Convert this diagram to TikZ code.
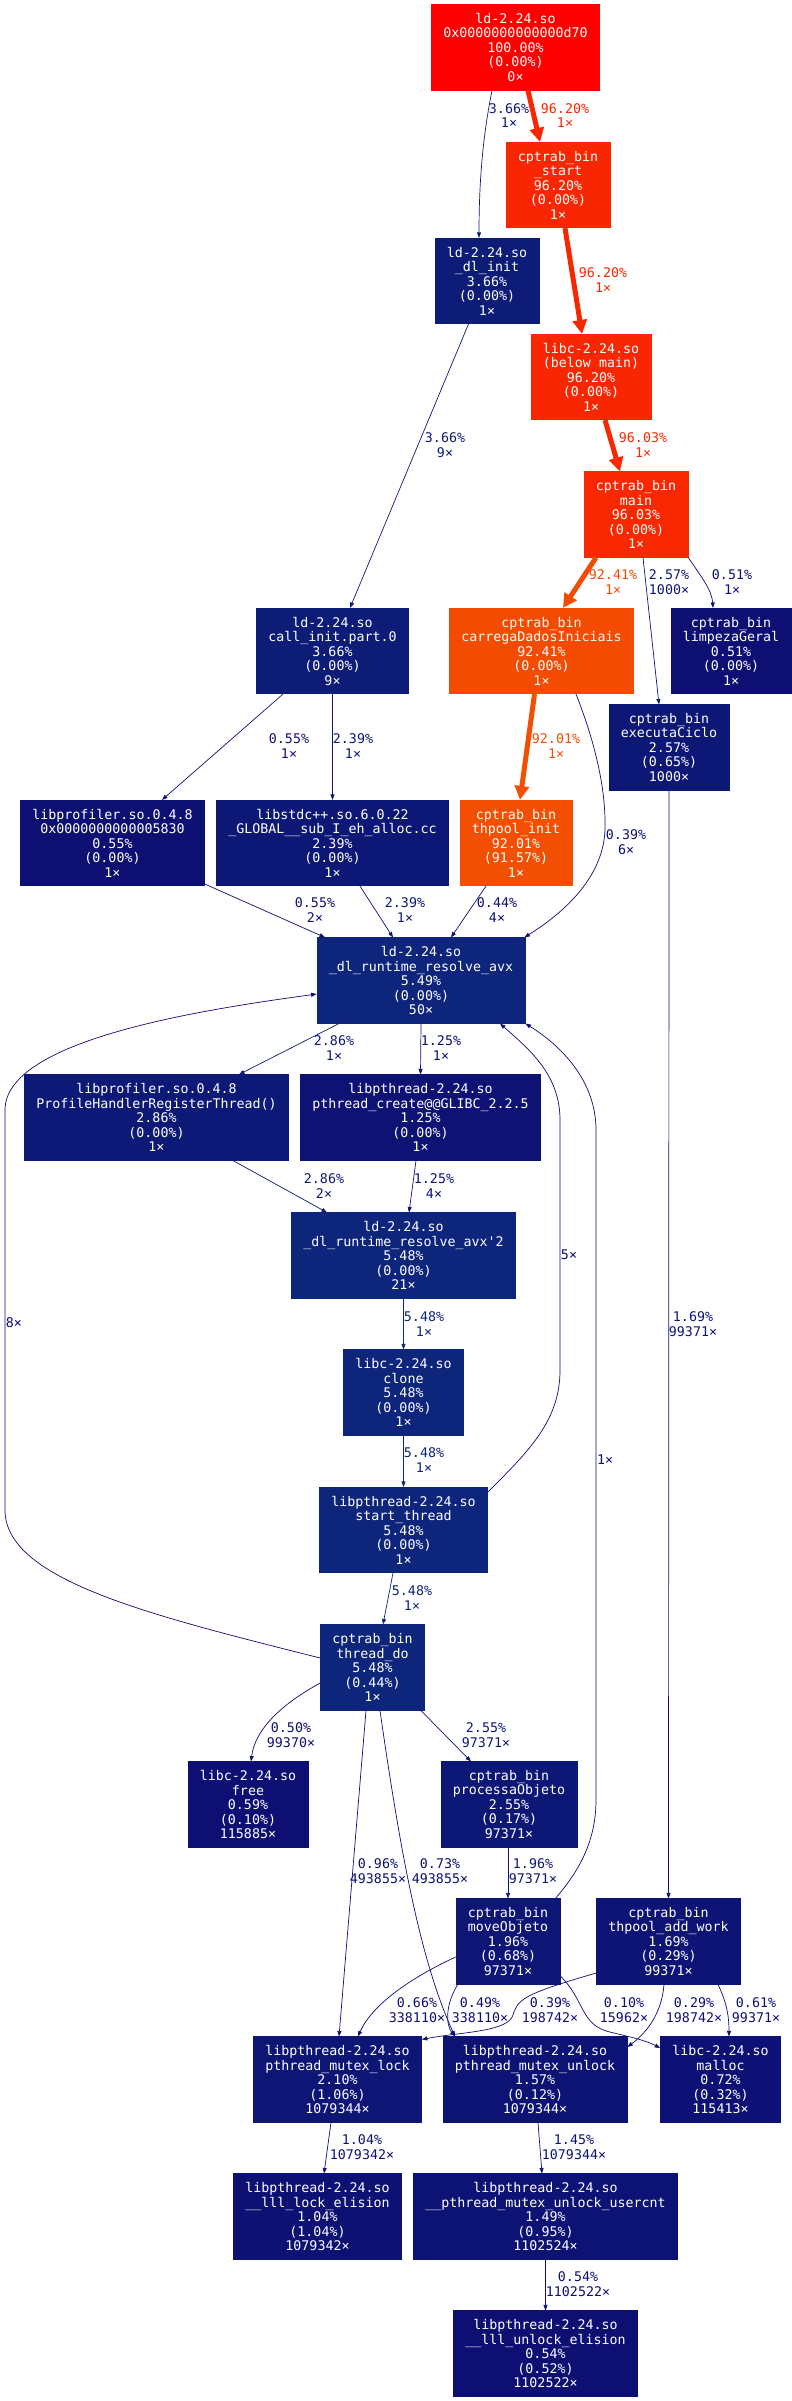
\documentclass[tikz,border=0pt]{standalone}
\usepackage{fontspec}
\newfontfamily\dvm{DejaVu Sans Mono}
\usetikzlibrary{arrows.meta}
\definecolor{c1000}{HTML}{FF0000}
\definecolor{c962}{HTML}{F92701}
\definecolor{c960}{HTML}{F92801}
\definecolor{c924}{HTML}{F34B02}
\definecolor{c920}{HTML}{F34F02}
\definecolor{c548}{HTML}{0D257A}
\definecolor{c366}{HTML}{0D1C77}
\definecolor{c286}{HTML}{0D1976}
\definecolor{c257}{HTML}{0D1776}
\definecolor{c255}{HTML}{0D1776}
\definecolor{c239}{HTML}{0D1776}
\definecolor{c210}{HTML}{0D1675}
\definecolor{c196}{HTML}{0D1575}
\definecolor{c169}{HTML}{0D1475}
\definecolor{c157}{HTML}{0D1374}
\definecolor{c149}{HTML}{0D1374}
\definecolor{c145}{HTML}{0D1374}
\definecolor{c125}{HTML}{0D1274}
\definecolor{c104}{HTML}{0D1174}
\definecolor{c096}{HTML}{0D1174}
\definecolor{cB}{HTML}{0D1074}
\definecolor{cA}{HTML}{0D0F73}
\definecolor{c000}{HTML}{0D0D73}
\begin{document}
\begin{tikzpicture}[x=1pt,y=-1pt,
  fn/.style={rectangle, fill=#1, draw=#1, line width=0.6pt, text=white,
    font=\dvm\fontsize{13.3}{14.5}\selectfont, align=center,
    inner xsep=12pt, inner ysep=0pt, minimum height=85.5pt},
  lbl/.style={text=#1, font=\dvm\fontsize{13.3}{14.5}\selectfont, align=center, inner sep=0pt},
  he/.style={draw=#1, line width=5pt, -{Triangle[length=14pt,width=14pt]}},
  ce/.style={draw=#1, line width=0.7pt, -{Triangle[length=5.5pt,width=4pt]}},
]
\fill[white] (0,0) rectangle (792,2401);
\useasboundingbox (0,0) rectangle (792,2401);

% nodes
\node[fn=c1000] (n0) at (515.5,47.5) {ld-2.24.so\\0x0000000000000d70\\100.00\%\\(0.00\%)\\0×};
\node[fn=c962] (nstart) at (558,185) {cptrab\_bin\\\_start\\96.20\%\\(0.00\%)\\1×};
\node[fn=c366] (ndlinit) at (487,281) {ld-2.24.so\\\_dl\_init\\3.66\%\\(0.00\%)\\1×};
\node[fn=c962] (nbelow) at (591,377) {libc-2.24.so\\(below main)\\96.20\%\\(0.00\%)\\1×};
\node[fn=c960] (nmain) at (636,514.5) {cptrab\_bin\\main\\96.03\%\\(0.00\%)\\1×};
\node[fn=c366] (ncallinit) at (332.5,651) {ld-2.24.so\\call\_init.part.0\\3.66\%\\(0.00\%)\\9×};
\node[fn=c924] (ncarrega) at (541.5,651) {cptrab\_bin\\carregaDadosIniciais\\92.41\%\\(0.00\%)\\1×};
\node[fn=cA] (nlimpeza) at (731,651) {cptrab\_bin\\limpezaGeral\\0.51\%\\(0.00\%)\\1×};
\node[fn=c257] (nexec) at (669,747.5) {cptrab\_bin\\executaCiclo\\2.57\%\\(0.65\%)\\1000×};
\node[fn=cA] (nlibprof) at (112.5,843) {libprofiler.so.0.4.8\\0x0000000000005830\\0.55\%\\(0.00\%)\\1×};
\node[fn=c239] (nlibstdc) at (332.5,843) {libstdc++.so.6.0.22\\\_GLOBAL\_\_sub\_I\_eh\_alloc.cc\\2.39\%\\(0.00\%)\\1×};
\node[fn=c920] (nthinit) at (516,843) {cptrab\_bin\\thpool\_init\\92.01\%\\(91.57\%)\\1×};
\node[fn=c548] (nresolve) at (421,980.5) {ld-2.24.so\\\_dl\_runtime\_resolve\_avx\\5.49\%\\(0.00\%)\\50×};
\node[fn=c286] (nprofh) at (156.5,1117.5) {libprofiler.so.0.4.8\\ProfileHandlerRegisterThread()\\2.86\%\\(0.00\%)\\1×};
\node[fn=c125] (npcreate) at (420.5,1117.5) {libpthread-2.24.so\\pthread\_create@@GLIBC\_2.2.5\\1.25\%\\(0.00\%)\\1×};
\node[fn=c548] (nresolve2) at (403.5,1255.5) {ld-2.24.so\\\_dl\_runtime\_resolve\_avx'2\\5.48\%\\(0.00\%)\\21×};
\node[fn=c548] (nclone) at (403.5,1392.5) {libc-2.24.so\\clone\\5.48\%\\(0.00\%)\\1×};
\node[fn=c548] (nstartth) at (403.5,1530) {libpthread-2.24.so\\start\_thread\\5.48\%\\(0.00\%)\\1×};
\node[fn=c548] (nthreaddo) at (372.5,1667.5) {cptrab\_bin\\thread\_do\\5.48\%\\(0.44\%)\\1×};
\node[fn=cA] (nfree) at (248,1804.5) {libc-2.24.so\\free\\0.59\%\\(0.10\%)\\115885×};
\node[fn=c255] (nprocessa) at (509,1804.5) {cptrab\_bin\\processaObjeto\\2.55\%\\(0.17\%)\\97371×};
\node[fn=c196] (nmove) at (508,1941.5) {cptrab\_bin\\moveObjeto\\1.96\%\\(0.68\%)\\97371×};
\node[fn=c169] (naddwork) at (668.5,1941.5) {cptrab\_bin\\thpool\_add\_work\\1.69\%\\(0.29\%)\\99371×};
\node[fn=c210] (nlock) at (337.5,2079.5) {libpthread-2.24.so\\pthread\_mutex\_lock\\2.10\%\\(1.06\%)\\1079344×};
\node[fn=c157] (nunlock) at (535,2079.5) {libpthread-2.24.so\\pthread\_mutex\_unlock\\1.57\%\\(0.12\%)\\1079344×};
\node[fn=cB] (nmalloc) at (720.5,2079.5) {libc-2.24.so\\malloc\\0.72\%\\(0.32\%)\\115413×};
\node[fn=c104] (nlllock) at (317.5,2216.5) {libpthread-2.24.so\\\_\_lll\_lock\_elision\\1.04\%\\(1.04\%)\\1079342×};
\node[fn=c149] (nusercnt) at (545.5,2216.5) {libpthread-2.24.so\\\_\_pthread\_mutex\_unlock\_usercnt\\1.49\%\\(0.95\%)\\1102524×};
\node[fn=cA] (nlllunlock) at (545.5,2353.5) {libpthread-2.24.so\\\_\_lll\_unlock\_elision\\0.54\%\\(0.52\%)\\1102522×};

% edges
\draw[ce=c366] ([xshift=-23.5pt]n0.south) .. controls (484,130) and (479,175) .. ([xshift=-8pt]ndlinit.north);
\draw[he=c962] ([xshift=12.5pt]n0.south) -- ([xshift=-18pt]nstart.north);
\draw[he=c962] ([xshift=7pt]nstart.south) -- ([xshift=-9pt]nbelow.north);
\draw[he=c960] ([xshift=14pt]nbelow.south) -- ([xshift=-16pt]nmain.north);
\draw[ce=c366] ([xshift=-18.5pt]ndlinit.south) -- ([xshift=17.5pt]ncallinit.north);
\draw[he=c924] ([xshift=-40pt]nmain.south) -- ([xshift=21.5pt]ncarrega.north);
\draw[ce=c257] ([xshift=7pt]nmain.south) -- ([xshift=-10pt]nexec.north);
\draw[ce=cA] (nmain.south east) .. controls (700,575) and (712,590) .. ([xshift=-18pt]nlimpeza.north);
\draw[ce=cA] ([xshift=-49.5pt]ncallinit.south) -- ([xshift=49.5pt]nlibprof.north);
\draw[ce=c239] (ncallinit.south) -- (nlibstdc.north);
\draw[he=c920] ([xshift=-7pt]ncarrega.south) -- ([xshift=4pt]nthinit.north);
\draw[ce=cA] ([xshift=34.5pt]ncarrega.south) .. controls (596,745) and (606,790) .. (605,830) .. controls (603,880) and (560,915) .. ([xshift=-1pt]nresolve.north east);
\draw[ce=cA] ([yshift=2pt]nlibprof.south east) -- ([xshift=-96pt]nresolve.north);
\draw[ce=c239] ([xshift=27.5pt]nlibstdc.south) -- ([xshift=-28pt]nresolve.north);
\draw[ce=cA] ([xshift=-30pt]nthinit.south) -- ([xshift=30pt]nresolve.north);
\draw[ce=c286] ([xshift=-82pt]nresolve.south) -- ([xshift=82.5pt]nprofh.north);
\draw[ce=c125] (nresolve.south) -- (npcreate.north);
\draw[ce=c000] ([yshift=9.5pt]nthreaddo.west) .. controls (150,1615) and (5,1580) .. (5,1510) -- (5,1110) .. controls (5,1040) and (200,1010) .. ([yshift=-13.5pt]nresolve.west);
\draw[ce=c000] ([yshift=-5pt]nstartth.north east) .. controls (530,1450) and (560,1420) .. (560,1370) -- (560,1120) .. controls (560,1075) and (530,1050) .. ([xshift=79pt]nresolve.south);
\draw[ce=c000] ([xshift=-5pt]nmove.north east) .. controls (580,1870) and (596,1840) .. (596,1800) -- (596,1130) .. controls (596,1080) and (560,1045) .. (nresolve.south east);
\draw[ce=c286] ([xshift=76.5pt]nprofh.south) -- ([xshift=-76.5pt]nresolve2.north);
\draw[ce=c125] ([xshift=-4.5pt]npcreate.south) -- ([xshift=5.5pt]nresolve2.north);
\draw[ce=c548] (nresolve2.south) -- (nclone.north);
\draw[ce=c548] (nclone.south) -- (nstartth.north);
\draw[ce=c169] (nexec.south) -- (naddwork.north);
\draw[ce=c548] ([xshift=-10.5pt]nstartth.south) -- ([xshift=10.5pt]nthreaddo.north);
\draw[ce=cA] ([yshift=-15.5pt]nthreaddo.west) .. controls (280,1705) and (255,1730) .. ([xshift=3pt]nfree.north);
\draw[ce=c255] ([xshift=48.5pt]nthreaddo.south) -- ([xshift=-38pt]nprocessa.north);
\draw[ce=c096] ([xshift=-6.5pt]nthreaddo.south) -- ([xshift=1.5pt]nlock.north);
\draw[ce=cB] ([xshift=7.5pt]nthreaddo.south) .. controls (400,1850) and (420,1960) .. ([xshift=-80pt]nunlock.north);
\draw[ce=c196] ([xshift=-1pt]nprocessa.south) -- (nmove.north);
\draw[ce=cA] ([yshift=-15.5pt]nmove.west) .. controls (410,1978) and (372,2005) .. ([xshift=20.5pt]nlock.north);
\draw[ce=cA] ([xshift=2pt]nmove.south west) .. controls (445,2005) and (446,2025) .. ([xshift=-80pt]nunlock.north);
\draw[ce=cA] ([yshift=-31.5pt]naddwork.west) .. controls (520,1995) and (518,2000) .. (513,2015) .. controls (508,2032) and (460,2032) .. ([yshift=-3pt]nlock.north east);
\draw[ce=cA] ([yshift=-34.5pt]nmove.east) .. controls (585,2000) and (580,2025) .. (610,2032) .. controls (630,2037) and (645,2040) .. ([yshift=31.5pt]nmalloc.west);
\draw[ce=cA] ([xshift=-4.5pt]naddwork.south) .. controls (662,2010) and (650,2030) .. ([yshift=32.5pt]nunlock.east);
\draw[ce=cA] ([xshift=49.5pt]naddwork.south) .. controls (728,2005) and (729,2020) .. ([xshift=8.5pt]nmalloc.north);
\draw[ce=c104] ([xshift=-6.5pt]nlock.south) -- ([xshift=6.5pt]nlllock.north);
\draw[ce=c145] ([xshift=3pt]nunlock.south) -- ([xshift=-3.5pt]nusercnt.north);
\draw[ce=cA] (nusercnt.south) -- (nlllunlock.north);

% edge labels
\node[lbl=c366] (l1) at (509,115.5) {3.66\%\\1×};
\node[lbl=c962] (l2) at (565,115.5) {96.20\%\\1×};
\node[lbl=c962] (l3) at (603,280) {96.20\%\\1×};
\node[lbl=c960] (l4) at (643,445) {96.03\%\\1×};
\node[lbl=c366] (l5) at (445,445) {3.66\%\\9×};
\node[lbl=c924] (l6) at (613,582) {92.41\%\\1×};
\node[lbl=c257] (l7) at (669,582) {2.57\%\\1000×};
\node[lbl=cA] (l8) at (732,582) {0.51\%\\1×};
\node[lbl=cA] (l9) at (289,746) {0.55\%\\1×};
\node[lbl=c239] (l10) at (353,746) {2.39\%\\1×};
\node[lbl=c920] (l11) at (556,746) {92.01\%\\1×};
\node[lbl=cA] (l12) at (626,842) {0.39\%\\6×};
\node[lbl=cA] (l13) at (315,910) {0.55\%\\2×};
\node[lbl=c239] (l14) at (405,910) {2.39\%\\1×};
\node[lbl=cA] (l15) at (497,910) {0.44\%\\4×};
\node[lbl=c286] (l16) at (334,1048) {2.86\%\\1×};
\node[lbl=c125] (l17) at (441,1048) {1.25\%\\1×};
\node[lbl=c000] (l18) at (14,1323) {8×};
\node[lbl=c000] (l19) at (569,1255) {5×};
\node[lbl=c000] (l20) at (605,1460) {1×};
\node[lbl=c286] (l21) at (324,1186) {2.86\%\\2×};
\node[lbl=c125] (l22) at (434,1186) {1.25\%\\4×};
\node[lbl=c548] (l23) at (424,1324) {5.48\%\\1×};
\node[lbl=c548] (l24) at (424,1460) {5.48\%\\1×};
\node[lbl=c169] (l25) at (693,1324) {1.69\%\\99371×};
\node[lbl=c548] (l26) at (412,1598) {5.48\%\\1×};
\node[lbl=cA] (l27) at (291,1735) {0.50\%\\99370×};
\node[lbl=c255] (l28) at (486,1735) {2.55\%\\97371×};
\node[lbl=c096] (l29) at (378,1871) {0.96\%\\493855×};
\node[lbl=cB] (l30) at (440,1871) {0.73\%\\493855×};
\node[lbl=c196] (l31) at (533,1871) {1.96\%\\97371×};
\node[lbl=cA] (l32) at (417,2010) {0.66\%\\338110×};
\node[lbl=cA] (l33) at (480,2010) {0.49\%\\338110×};
\node[lbl=cA] (l34) at (550,2010) {0.39\%\\198742×};
\node[lbl=cA] (l35) at (624,2010) {0.10\%\\15962×};
\node[lbl=cA] (l36) at (694,2010) {0.29\%\\198742×};
\node[lbl=cA] (l37) at (756,2010) {0.61\%\\99371×};
\node[lbl=c104] (l38) at (362,2147) {1.04\%\\1079342×};
\node[lbl=c145] (l39) at (574,2147) {1.45\%\\1079344×};
\node[lbl=cA] (l40) at (578,2284) {0.54\%\\1102522×};
\end{tikzpicture}
\end{document}
